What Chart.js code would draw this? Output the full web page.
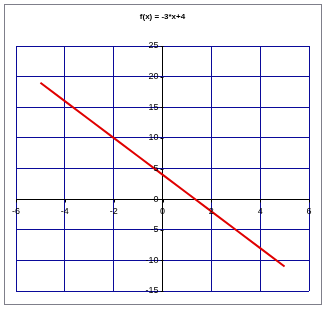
<!DOCTYPE html>
<html>
<head>
<meta charset="utf-8">
<script src="https://cdn.jsdelivr.net/npm/chart.js@4/dist/chart.umd.min.js"></script>
<style>
  html, body { margin: 0; padding: 0; background: #fff; }
  #wrap { position: relative; width: 326px; height: 310px; }
</style>
</head>
<body>
<div id="wrap"><canvas id="fxChart" width="326" height="310"></canvas></div>
<script>
const chartTitle = 'f(x) = -3*x+4';
const xValues = [-5, -4, -3, -2, -1, 0, 1, 2, 3, 4, 5];
const yValues = [19, 16, 13, 10, 7, 4, 1, -2, -5, -8, -11];
const xTicks = [-6, -4, -2, 0, 2, 4, 6];
const yTicks = [-15, -10, -5, 0, 5, 10, 15, 20, 25];

const gridBlue = '#0a0a9a';
const labelFont = '9px "Liberation Sans", Arial, sans-serif';

// axes through the origin, tick labels and outer frame, drawn like the old spreadsheet chart
const crossAxes = {
  id: 'crossAxes',
  afterDraw(chart) {
    const { ctx, scales: { x, y }, chartArea } = chart;
    const x0 = Math.round(x.getPixelForValue(0)) + 0.5;
    const y0 = Math.round(y.getPixelForValue(0)) + 0.5;
    ctx.save();
    // outer frame
    ctx.strokeStyle = '#7f7f8a';
    ctx.lineWidth = 1;
    ctx.strokeRect(4.5, 4.5, 317, 300);
    // title
    ctx.fillStyle = '#000';
    ctx.font = 'bold 8px "Liberation Sans", Arial, sans-serif';
    ctx.textAlign = 'center';
    ctx.textBaseline = 'middle';
    ctx.fillText(chartTitle, (chartArea.left + chartArea.right) / 2, 17);
    // tick marks on zero axes
    ctx.strokeStyle = '#000';
    ctx.beginPath();
    yTicks.forEach(v => {
      const py = Math.round(y.getPixelForValue(v)) + 0.5;
      ctx.moveTo(x0 - 3, py); ctx.lineTo(x0, py);
    });
    xTicks.forEach(v => {
      const px = Math.round(x.getPixelForValue(v)) + 0.5;
      ctx.moveTo(px, y0); ctx.lineTo(px, y0 + 3);
    });
    ctx.stroke();
    // labels
    ctx.font = labelFont;
    ctx.textAlign = 'right';
    yTicks.forEach(v => {
      ctx.fillText(String(v), x0 - 5, y.getPixelForValue(v));
    });
    ctx.textAlign = 'center';
    ctx.textBaseline = 'top';
    xTicks.forEach(v => {
      ctx.fillText(String(v), x.getPixelForValue(v), y0 + 8);
    });
    ctx.restore();
  }
};

new Chart(document.getElementById('fxChart'), {
  type: 'scatter',
  data: {
    datasets: [{
      data: xValues.map((v, i) => ({ x: v, y: yValues[i] })),
      showLine: true,
      borderColor: '#e00000',
      borderWidth: 2,
      pointRadius: 0,
      tension: 0
    }]
  },
  options: {
    responsive: false,
    animation: false,
    layout: { padding: { left: 16, right: 17, top: 46, bottom: 19 } },
    plugins: { legend: { display: false }, title: { display: false }, tooltip: { enabled: false } },
    scales: {
      x: {
        type: 'linear', min: -6, max: 6,
        afterBuildTicks: s => { s.ticks = xTicks.map(v => ({ value: v })); },
        ticks: { display: false },
        border: { display: false },
        grid: { drawTicks: false, color: c => c.tick && c.tick.value === 0 ? '#000' : gridBlue }
      },
      y: {
        type: 'linear', min: -15, max: 25,
        afterBuildTicks: s => { s.ticks = yTicks.map(v => ({ value: v })); },
        ticks: { display: false },
        border: { display: false },
        grid: { drawTicks: false, color: c => c.tick && c.tick.value === 0 ? '#000' : gridBlue }
      }
    }
  },
  plugins: [crossAxes]
});
</script>
</body>
</html>
